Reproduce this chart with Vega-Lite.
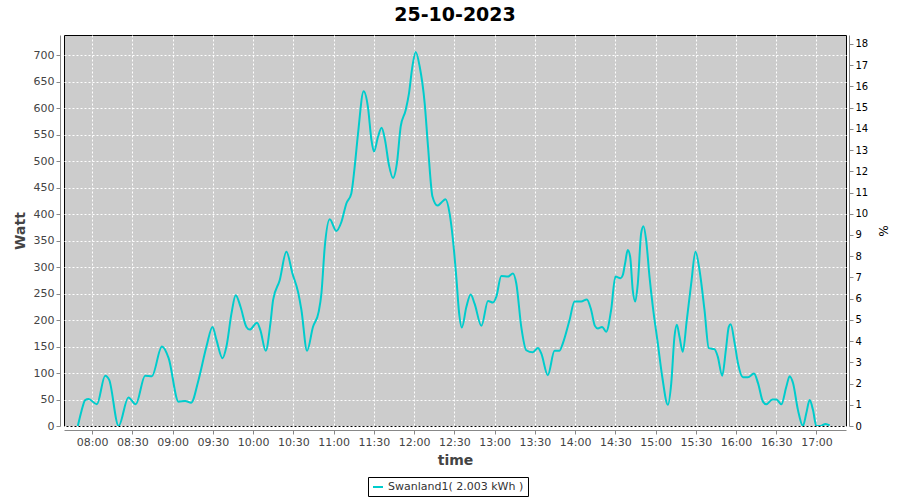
{
  "$schema": "https://vega.github.io/schema/vega-lite/v6.json",
  "width": 782,
  "height": 391,
  "autosize": {"type": "none"},
  "padding": {"left": 64, "top": 35, "right": 54, "bottom": 74},
  "background": "white",
  "title": {"text": "25-10-2023", "fontSize": 19, "fontWeight": "bold", "color": "black", "font": "DejaVu Sans", "offset": 10},
  "config": {
    "font": "DejaVu Sans",
    "view": {"fill": "#CCCCCC", "stroke": "black", "strokeWidth": 1},
    "axis": {
      "gridColor": "white", "gridDash": [2, 2], "gridWidth": 1, "gridOpacity": 1,
      "domainColor": "#888888", "tickColor": "#888888", "tickSize": 4,
      "labelColor": "#444444", "labelFontSize": 11, "labelFont": "DejaVu Sans",
      "titleColor": "#444444", "titleFontSize": 14, "titleFontWeight": "bold", "titleFont": "DejaVu Sans"
    }
  },
  "data": {"values": [
    {"t": "2023-10-25T07:49:18", "w": 0},
    {"t": "2023-10-25T07:52:00", "w": 28},
    {"t": "2023-10-25T07:54:48", "w": 49},
    {"t": "2023-10-25T07:57:18", "w": 51},
    {"t": "2023-10-25T08:03:30", "w": 41},
    {"t": "2023-10-25T08:09:42", "w": 95},
    {"t": "2023-10-25T08:12:42", "w": 87},
    {"t": "2023-10-25T08:19:42", "w": 0},
    {"t": "2023-10-25T08:27:00", "w": 54},
    {"t": "2023-10-25T08:32:30", "w": 41},
    {"t": "2023-10-25T08:39:30", "w": 95},
    {"t": "2023-10-25T08:44:30", "w": 94},
    {"t": "2023-10-25T08:52:00", "w": 150},
    {"t": "2023-10-25T08:57:00", "w": 128},
    {"t": "2023-10-25T09:04:24", "w": 46},
    {"t": "2023-10-25T09:09:18", "w": 47},
    {"t": "2023-10-25T09:13:48", "w": 44},
    {"t": "2023-10-25T09:19:18", "w": 87},
    {"t": "2023-10-25T09:25:12", "w": 150},
    {"t": "2023-10-25T09:29:42", "w": 187},
    {"t": "2023-10-25T09:32:42", "w": 162},
    {"t": "2023-10-25T09:37:12", "w": 128},
    {"t": "2023-10-25T09:40:06", "w": 150},
    {"t": "2023-10-25T09:43:54", "w": 213},
    {"t": "2023-10-25T09:47:00", "w": 247},
    {"t": "2023-10-25T09:50:36", "w": 225},
    {"t": "2023-10-25T09:55:00", "w": 187},
    {"t": "2023-10-25T09:57:30", "w": 182},
    {"t": "2023-10-25T10:02:54", "w": 195},
    {"t": "2023-10-25T10:05:24", "w": 181},
    {"t": "2023-10-25T10:09:24", "w": 142},
    {"t": "2023-10-25T10:12:54", "w": 194},
    {"t": "2023-10-25T10:14:54", "w": 238},
    {"t": "2023-10-25T10:19:48", "w": 275},
    {"t": "2023-10-25T10:24:48", "w": 329},
    {"t": "2023-10-25T10:29:18", "w": 288},
    {"t": "2023-10-25T10:33:30", "w": 253},
    {"t": "2023-10-25T10:36:00", "w": 219},
    {"t": "2023-10-25T10:40:12", "w": 142},
    {"t": "2023-10-25T10:44:36", "w": 187},
    {"t": "2023-10-25T10:48:54", "w": 216},
    {"t": "2023-10-25T10:50:54", "w": 250},
    {"t": "2023-10-25T10:53:24", "w": 338},
    {"t": "2023-10-25T10:57:06", "w": 390},
    {"t": "2023-10-25T11:02:00", "w": 368},
    {"t": "2023-10-25T11:05:48", "w": 385},
    {"t": "2023-10-25T11:09:30", "w": 420},
    {"t": "2023-10-25T11:13:12", "w": 439},
    {"t": "2023-10-25T11:15:42", "w": 489},
    {"t": "2023-10-25T11:18:12", "w": 552},
    {"t": "2023-10-25T11:22:24", "w": 632},
    {"t": "2023-10-25T11:25:36", "w": 602},
    {"t": "2023-10-25T11:28:12", "w": 540},
    {"t": "2023-10-25T11:30:06", "w": 518},
    {"t": "2023-10-25T11:33:06", "w": 546},
    {"t": "2023-10-25T11:35:48", "w": 563},
    {"t": "2023-10-25T11:38:18", "w": 540},
    {"t": "2023-10-25T11:41:18", "w": 492},
    {"t": "2023-10-25T11:44:18", "w": 468},
    {"t": "2023-10-25T11:47:12", "w": 496},
    {"t": "2023-10-25T11:50:00", "w": 565},
    {"t": "2023-10-25T11:53:42", "w": 596},
    {"t": "2023-10-25T11:56:12", "w": 628},
    {"t": "2023-10-25T11:58:42", "w": 678},
    {"t": "2023-10-25T12:01:12", "w": 706},
    {"t": "2023-10-25T12:04:12", "w": 678},
    {"t": "2023-10-25T12:07:54", "w": 609},
    {"t": "2023-10-25T12:10:24", "w": 527},
    {"t": "2023-10-25T12:13:42", "w": 433},
    {"t": "2023-10-25T12:17:24", "w": 416},
    {"t": "2023-10-25T12:20:24", "w": 422},
    {"t": "2023-10-25T12:23:24", "w": 428},
    {"t": "2023-10-25T12:26:30", "w": 401},
    {"t": "2023-10-25T12:29:00", "w": 351},
    {"t": "2023-10-25T12:31:30", "w": 280},
    {"t": "2023-10-25T12:33:30", "w": 215},
    {"t": "2023-10-25T12:35:36", "w": 186},
    {"t": "2023-10-25T12:39:00", "w": 225},
    {"t": "2023-10-25T12:42:12", "w": 248},
    {"t": "2023-10-25T12:45:06", "w": 231},
    {"t": "2023-10-25T12:50:12", "w": 189},
    {"t": "2023-10-25T12:55:06", "w": 236},
    {"t": "2023-10-25T12:58:48", "w": 233},
    {"t": "2023-10-25T13:01:18", "w": 244},
    {"t": "2023-10-25T13:05:00", "w": 283},
    {"t": "2023-10-25T13:10:00", "w": 282},
    {"t": "2023-10-25T13:13:42", "w": 288},
    {"t": "2023-10-25T13:16:12", "w": 269},
    {"t": "2023-10-25T13:19:54", "w": 187},
    {"t": "2023-10-25T13:23:36", "w": 143},
    {"t": "2023-10-25T13:28:30", "w": 139},
    {"t": "2023-10-25T13:32:18", "w": 147},
    {"t": "2023-10-25T13:34:48", "w": 137},
    {"t": "2023-10-25T13:39:42", "w": 96},
    {"t": "2023-10-25T13:44:42", "w": 142},
    {"t": "2023-10-25T13:48:24", "w": 142},
    {"t": "2023-10-25T13:50:54", "w": 156},
    {"t": "2023-10-25T13:55:54", "w": 200},
    {"t": "2023-10-25T13:59:36", "w": 235},
    {"t": "2023-10-25T14:04:36", "w": 235},
    {"t": "2023-10-25T14:08:48", "w": 239},
    {"t": "2023-10-25T14:12:00", "w": 219},
    {"t": "2023-10-25T14:14:48", "w": 189},
    {"t": "2023-10-25T14:17:00", "w": 184},
    {"t": "2023-10-25T14:20:12", "w": 187},
    {"t": "2023-10-25T14:23:12", "w": 178},
    {"t": "2023-10-25T14:26:54", "w": 219},
    {"t": "2023-10-25T14:30:06", "w": 282},
    {"t": "2023-10-25T14:33:48", "w": 279},
    {"t": "2023-10-25T14:35:36", "w": 285},
    {"t": "2023-10-25T14:37:18", "w": 307},
    {"t": "2023-10-25T14:39:18", "w": 332},
    {"t": "2023-10-25T14:41:06", "w": 319},
    {"t": "2023-10-25T14:43:00", "w": 257},
    {"t": "2023-10-25T14:44:54", "w": 235},
    {"t": "2023-10-25T14:46:48", "w": 269},
    {"t": "2023-10-25T14:49:18", "w": 364},
    {"t": "2023-10-25T14:51:00", "w": 377},
    {"t": "2023-10-25T14:53:00", "w": 351},
    {"t": "2023-10-25T14:55:30", "w": 282},
    {"t": "2023-10-25T14:58:00", "w": 225},
    {"t": "2023-10-25T15:01:42", "w": 156},
    {"t": "2023-10-25T15:05:00", "w": 93},
    {"t": "2023-10-25T15:09:12", "w": 40},
    {"t": "2023-10-25T15:11:42", "w": 80},
    {"t": "2023-10-25T15:14:06", "w": 168},
    {"t": "2023-10-25T15:15:54", "w": 191},
    {"t": "2023-10-25T15:17:54", "w": 168},
    {"t": "2023-10-25T15:20:18", "w": 140},
    {"t": "2023-10-25T15:23:18", "w": 200},
    {"t": "2023-10-25T15:26:36", "w": 269},
    {"t": "2023-10-25T15:29:48", "w": 329},
    {"t": "2023-10-25T15:32:48", "w": 294},
    {"t": "2023-10-25T15:36:30", "w": 219},
    {"t": "2023-10-25T15:39:42", "w": 147},
    {"t": "2023-10-25T15:43:54", "w": 145},
    {"t": "2023-10-25T15:46:24", "w": 131},
    {"t": "2023-10-25T15:49:42", "w": 95},
    {"t": "2023-10-25T15:52:30", "w": 145},
    {"t": "2023-10-25T15:54:36", "w": 187},
    {"t": "2023-10-25T15:56:00", "w": 192},
    {"t": "2023-10-25T15:59:00", "w": 156},
    {"t": "2023-10-25T16:01:30", "w": 118},
    {"t": "2023-10-25T16:05:12", "w": 92},
    {"t": "2023-10-25T16:08:54", "w": 92},
    {"t": "2023-10-25T16:13:24", "w": 99},
    {"t": "2023-10-25T16:16:24", "w": 81},
    {"t": "2023-10-25T16:20:06", "w": 46},
    {"t": "2023-10-25T16:22:36", "w": 41},
    {"t": "2023-10-25T16:27:06", "w": 50},
    {"t": "2023-10-25T16:30:06", "w": 50},
    {"t": "2023-10-25T16:33:48", "w": 41},
    {"t": "2023-10-25T16:37:30", "w": 74},
    {"t": "2023-10-25T16:40:00", "w": 94},
    {"t": "2023-10-25T16:42:30", "w": 81},
    {"t": "2023-10-25T16:46:12", "w": 30},
    {"t": "2023-10-25T16:49:54", "w": 0},
    {"t": "2023-10-25T16:52:24", "w": 24},
    {"t": "2023-10-25T16:54:54", "w": 49},
    {"t": "2023-10-25T16:57:24", "w": 30},
    {"t": "2023-10-25T16:59:54", "w": 0},
    {"t": "2023-10-25T17:03:00", "w": 0},
    {"t": "2023-10-25T17:06:48", "w": 4},
    {"t": "2023-10-25T17:09:48", "w": 1}
  ]},
  "encoding": {
    "x": {
      "field": "t", "type": "temporal", "title": "time",
      "scale": {"domain": [
        {"year": 2023, "month": 10, "date": 25, "hours": 7, "minutes": 39},
        {"year": 2023, "month": 10, "date": 25, "hours": 17, "minutes": 22}
      ]},
      "axis": {"format": "%H:%M", "tickCount": 20, "offset": 4, "labelPadding": 2, "titlePadding": 6}
    }
  },
  "layer": [
    {
      "mark": {"type": "line", "interpolate": "monotone", "strokeWidth": 2, "clip": true},
      "encoding": {
        "y": {
          "field": "w", "type": "quantitative", "title": "Watt",
          "scale": {"domain": [0, 738], "nice": false},
          "axis": {"values": [0, 50, 100, 150, 200, 250, 300, 350, 400, 450, 500, 550, 600, 650, 700], "offset": 4, "labelPadding": 2, "titlePadding": 6}
        },
        "color": {
          "datum": "Swanland1( 2.003 kWh )",
          "type": "nominal",
          "scale": {"range": ["#00CCCC"]},
          "legend": {
            "title": null, "orient": "none", "legendX": 304, "legendY": 442,
            "strokeColor": "black", "padding": 4, "symbolType": "stroke",
            "symbolStrokeWidth": 2, "labelFontSize": 11,
            "labelColor": "#333333"
          }
        }
      }
    },
    {
      "mark": {"type": "line", "strokeOpacity": 0, "clip": true},
      "encoding": {
        "y": {
          "field": "w", "type": "quantitative", "title": "%",
          "scale": {"domain": [0, 18.42], "nice": false},
          "axis": {"orient": "right", "grid": false, "values": [0,1,2,3,4,5,6,7,8,9,10,11,12,13,14,15,16,17,18], "offset": 3, "labelColor": "black", "labelFontSize": 10, "labelPadding": 2, "titlePadding": 8, "titleFontWeight": "normal", "titleColor": "black", "titleFontSize": 12}
        }
      }
    }
  ],
  "resolve": {"scale": {"y": "independent"}}
}
